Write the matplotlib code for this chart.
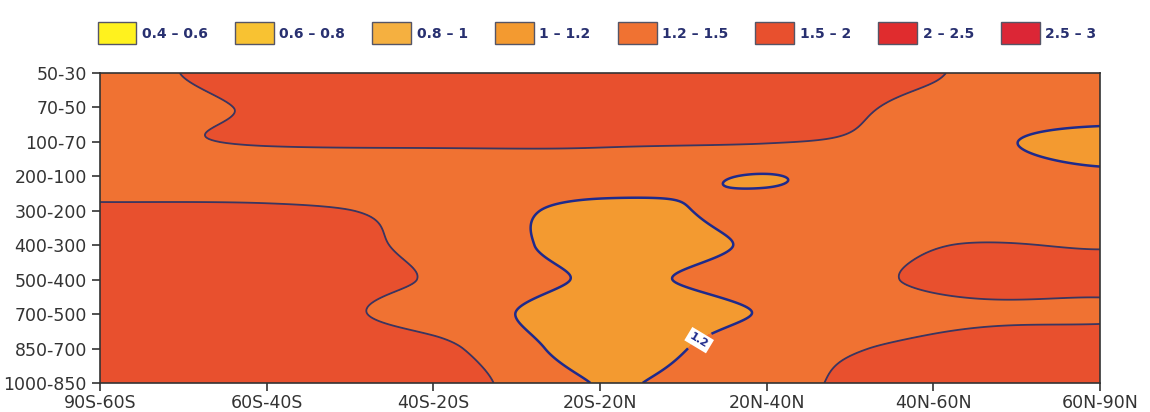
import numpy as np
import matplotlib.pyplot as plt
from matplotlib.patches import Patch

# latitude bands (x) and pressure layers in hPa (y, top layer first)
lat_bands = ['90S-60S', '60S-40S', '40S-20S', '20S-20N', '20N-40N', '40N-60N', '60N-90N']
layers = ['50-30', '70-50', '100-70', '200-100', '300-200', '400-300',
          '500-400', '700-500', '850-700', '1000-850']

# ratio values, one list per latitude band, top layer first
band_90s_60s = [1.41, 1.37, 1.44, 1.30, 1.56, 1.60, 1.60, 1.60, 1.60, 1.60]
band_60s_40s = [1.60, 1.53, 1.52, 1.30, 1.55, 1.60, 1.60, 1.60, 1.60, 1.60]
band_40s_20s = [1.60, 1.62, 1.53, 1.35, 1.42, 1.44, 1.48, 1.40, 1.57, 1.66]
band_20s_20n = [1.62, 1.63, 1.52, 1.38, 1.12, 1.09, 1.17, 1.04, 1.08, 1.19]
band_20n_40n = [1.62, 1.60, 1.51, 1.19, 1.30, 1.245, 1.32, 1.22, 1.38, 1.42]
band_40n_60n = [1.51, 1.46, 1.40, 1.45, 1.38, 1.49, 1.53, 1.45, 1.55, 1.62]
band_60n_90n = [1.37, 1.45, 1.02, 1.28, 1.35, 1.49, 1.53, 1.48, 1.58, 1.60]

levels = [0.4, 0.6, 0.8, 1.0, 1.2, 1.5, 2.0, 2.5, 3.0]
level_labels = ['0.4 – 0.6', '0.6 – 0.8', '0.8 – 1', '1 – 1.2',
                '1.2 – 1.5', '1.5 – 2', '2 – 2.5', '2.5 – 3']
fill_colors = ['#FFF21E', '#F8C232', '#F5B040', '#F39A30',
               '#F07232', '#E8502E', '#E02C2E', '#DC2636']

z = np.array([band_90s_60s, band_60s_40s, band_40s_20s, band_20s_20n,
              band_20n_40n, band_40n_60n, band_60n_90n]).T   # (layers, bands)


def catmull_rom(a, n, axis):
    # smooth resampling of the grid for drawing the contours
    a = np.moveaxis(a, axis, 0)
    m = a.shape[0]
    t = np.linspace(0, m - 1, n)
    k = np.minimum(np.floor(t).astype(int), m - 2)
    s = (t - k).reshape(-1, *([1] * (a.ndim - 1)))
    p0, p1 = a[np.maximum(k - 1, 0)], a[k]
    p2, p3 = a[k + 1], a[np.minimum(k + 2, m - 1)]
    out = 0.5 * (2 * p1 + (p2 - p0) * s + (2 * p0 - 5 * p1 + 4 * p2 - p3) * s ** 2
                 + (3 * p1 - p0 - 3 * p2 + p3) * s ** 3)
    return np.moveaxis(out, 0, axis)


nx, ny = len(lat_bands), len(layers)
zf = catmull_rom(catmull_rom(z, 320, 0), 600, 1)
xf, yf = np.meshgrid(np.linspace(0, nx - 1, 600), np.linspace(0, ny - 1, 320))

plt.rcParams['font.family'] = ['DejaVu Sans']

fig = plt.figure(figsize=(11.5, 4.12), dpi=100)
ax = fig.add_axes([100 / 1150, 1 - 383 / 412, 1000 / 1150, 310 / 412])

ax.contourf(xf, yf, zf, levels=levels, colors=fill_colors)
lines = ax.contour(xf, yf, zf, levels=[1.2, 1.5], colors=['#1e2a8c', '#3a3560'],
                   linewidths=[1.8, 1.3])
lbl = ax.clabel(lines, levels=[1.2], manual=[(3.57, 7.55)], inline=True,
                fmt='%.1f', fontsize=8)
for t in lbl:
    t.set_color('#1e2a8c')
    t.set_fontweight('bold')
    t.set_bbox(dict(facecolor='white', edgecolor='none', pad=2))

ax.set_xlim(0, nx - 1)
ax.set_ylim(ny - 1, 0)
ax.set_xticks(range(nx))
ax.set_xticklabels(lat_bands, fontsize=12.5, color='#333333')
ax.set_yticks(range(ny))
ax.set_yticklabels(layers, fontsize=12.5, color='#333333')
ax.tick_params(length=6, width=1.2, color='#333333')
ax.tick_params(axis='x', pad=2)
for s in ax.spines.values():
    s.set_color('#333333')
    s.set_linewidth(1.2)

handles = [Patch(facecolor=c, edgecolor='#555566', linewidth=1) for c in fill_colors]
fig.legend(handles, level_labels, loc='lower left',
           bbox_to_anchor=(92 / 1150, 0.88, 1010 / 1150, 0.1), mode='expand',
           ncol=8, frameon=False, handlelength=2.8, handleheight=2.0,
           handletextpad=0.4, borderaxespad=0,
           prop={'size': 10, 'weight': 'bold'}, labelcolor='#283070')

fig.savefig('out.png', dpi=100)
